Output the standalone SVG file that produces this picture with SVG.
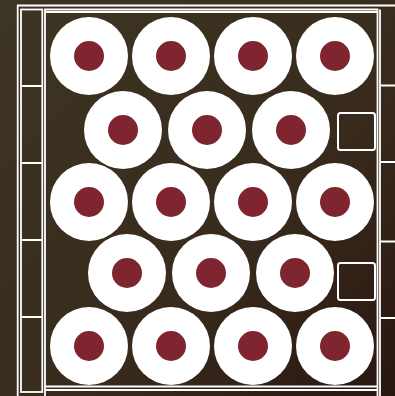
<svg xmlns="http://www.w3.org/2000/svg" width="395" height="396" viewBox="0 0 395 396">
<defs>
<linearGradient id="bg" x1="0" y1="0" x2="1" y2="1">
<stop offset="0" stop-color="#3d3523"/>
<stop offset="0.6" stop-color="#382b1d"/>
<stop offset="1" stop-color="#2a1610"/>
</linearGradient>
<style>
.ln{fill:none;stroke:#ffffff;stroke-width:1.8}
.disc{fill:#ffffff}
.dot{fill:#7e2530}
.sq{fill:none;stroke:#ffffff;stroke-width:2}
</style>
</defs>
<rect x="0" y="0" width="395" height="396" fill="url(#bg)"/>
<g id="frame">
<path class="ln" d="M17.7 396 V5.5 H395"/>
<rect class="ln" x="21" y="9.5" width="21.3" height="382.5"/>
<path class="ln" d="M21 86 H42.3 M21 163 H42.3 M21 240 H42.3 M21 317 H42.3"/>
<path class="ln" d="M45 396 V9.5 H377.5 V396"/>
<path class="ln" d="M45 12 H377.5"/>
<path class="ln" d="M45 386.5 H377.5 M45 390 H377.5"/>
<path class="ln" d="M380 396 V9.5"/>
<path class="ln" d="M380 85.5 H395 M380 162 H395 M380 241.5 H395 M380 318 H395"/>
</g>
<g id="row1">
<g id="c11"><circle class="disc" cx="89" cy="56" r="39"/><circle class="dot" cx="89" cy="56" r="15"/></g>
<g id="c12"><circle class="disc" cx="171" cy="56" r="39"/><circle class="dot" cx="171" cy="56" r="15"/></g>
<g id="c13"><circle class="disc" cx="253" cy="56" r="39"/><circle class="dot" cx="253" cy="56" r="15"/></g>
<g id="c14"><circle class="disc" cx="335" cy="56" r="39"/><circle class="dot" cx="335" cy="56" r="15"/></g>
</g>
<g id="row2">
<g id="c21"><circle class="disc" cx="123" cy="130" r="39"/><circle class="dot" cx="123" cy="130" r="15"/></g>
<g id="c22"><circle class="disc" cx="207" cy="130" r="39"/><circle class="dot" cx="207" cy="130" r="15"/></g>
<g id="c23"><circle class="disc" cx="291" cy="130" r="39"/><circle class="dot" cx="291" cy="130" r="15"/></g>
<g id="s2"><rect class="sq" x="338" y="113" width="37" height="37" rx="2.5"/></g>
</g>
<g id="row3">
<g id="c31"><circle class="disc" cx="89" cy="202" r="39"/><circle class="dot" cx="89" cy="202" r="15"/></g>
<g id="c32"><circle class="disc" cx="171" cy="202" r="39"/><circle class="dot" cx="171" cy="202" r="15"/></g>
<g id="c33"><circle class="disc" cx="253" cy="202" r="39"/><circle class="dot" cx="253" cy="202" r="15"/></g>
<g id="c34"><circle class="disc" cx="335" cy="202" r="39"/><circle class="dot" cx="335" cy="202" r="15"/></g>
</g>
<g id="row4">
<g id="c41"><circle class="disc" cx="127" cy="273" r="39"/><circle class="dot" cx="127" cy="273" r="15"/></g>
<g id="c42"><circle class="disc" cx="211" cy="273" r="39"/><circle class="dot" cx="211" cy="273" r="15"/></g>
<g id="c43"><circle class="disc" cx="295" cy="273" r="39"/><circle class="dot" cx="295" cy="273" r="15"/></g>
<g id="s4"><rect class="sq" x="338" y="263" width="37" height="37" rx="2.5"/></g>
</g>
<g id="row5">
<g id="c51"><circle class="disc" cx="89" cy="346" r="39"/><circle class="dot" cx="89" cy="346" r="15"/></g>
<g id="c52"><circle class="disc" cx="171" cy="346" r="39"/><circle class="dot" cx="171" cy="346" r="15"/></g>
<g id="c53"><circle class="disc" cx="253" cy="346" r="39"/><circle class="dot" cx="253" cy="346" r="15"/></g>
<g id="c54"><circle class="disc" cx="335" cy="346" r="39"/><circle class="dot" cx="335" cy="346" r="15"/></g>
</g>
</svg>
